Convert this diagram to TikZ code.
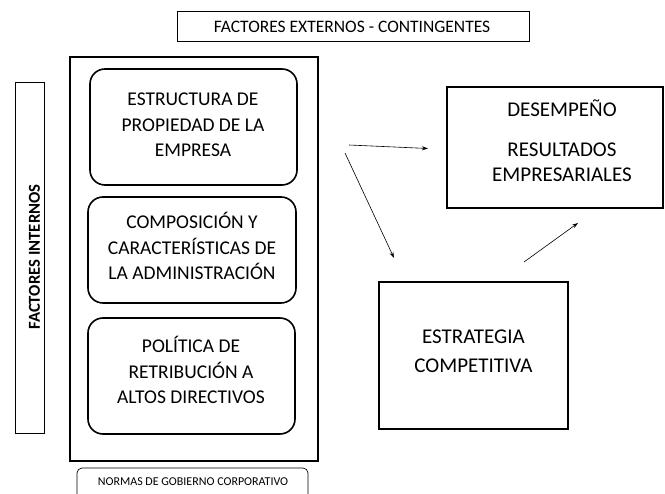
\documentclass[tikz,border=0pt]{standalone}
\usepackage{fontspec}
\setmainfont{Carlito}
\usetikzlibrary{arrows.meta}
\begin{document}
\begin{tikzpicture}[x=1pt,y=-1pt,
  thinbox/.style={draw,line width=0.7pt,inner sep=0pt},
  thickbox/.style={draw,line width=2pt,inner sep=0pt},
  roundbox/.style={draw,line width=1.6pt,rounded corners=15pt,inner sep=0pt},
  boxtext/.style={align=center,inner sep=0pt,text height=63.5pt,text depth=0pt,
     font=\fontsize{19.5}{25.5}\selectfont},
  bigtext/.style={align=center,inner sep=0pt,text depth=0pt,
     font=\fontsize{21}{25}\selectfont},
  arr/.style={line width=0.6pt,-{Stealth[length=6pt,width=4pt]}}]
\useasboundingbox (0,0) rectangle (665,494);
% top label
\node[thinbox,minimum width=352pt,minimum height=30pt] (ext) at (353,26) {};
\node[inner sep=0pt,text height=11.3pt,text depth=0pt,font=\fontsize{17.5}{20}\selectfont] (extt) at (352,27) {FACTORES EXTERNOS - CONTINGENTES};
% left vertical label
\node[thinbox,minimum width=29pt,minimum height=351pt] (intbox) at (29.5,257.5) {};
\node[rotate=90,inner sep=0pt,text height=10.8pt,text depth=0pt,font=\fontsize{16.7}{19}\selectfont\bfseries] (int) at (34.5,257) {FACTORES INTERNOS};
% container
\node[thickbox,minimum width=248pt,minimum height=404pt] (cont) at (194,259) {};
% rounded boxes
\node[roundbox,minimum width=207pt,minimum height=116pt] (b1) at (193.5,127) {};
\node[boxtext] (t1) at (193,125) {ESTRUCTURA DE\\PROPIEDAD DE LA\\EMPRESA};
\node[roundbox,minimum width=208pt,minimum height=106pt] (b2) at (192,250) {};
\node[boxtext] (t2) at (192,248) {COMPOSICIÓN Y\\CARACTERÍSTICAS DE\\LA ADMINISTRACIÓN};
\node[roundbox,minimum width=207pt,minimum height=116pt] (b3) at (191.5,376) {};
\node[boxtext] (t3) at (191,372) {POLÍTICA DE\\RETRIBUCIÓN A\\ALTOS DIRECTIVOS};
% bottom label
\draw[line width=0.7pt,rounded corners=5pt] (77,500) -- (77,468) -- (308,468) -- (308,500);
\node[inner sep=0pt,text height=7.7pt,text depth=0pt,font=\fontsize{12}{14}\selectfont] (norm) at (193,482) {NORMAS DE GOBIERNO CORPORATIVO};
% desempeno
\node[thickbox,minimum width=216pt,minimum height=121pt] (des) at (555,147.5) {};
\node[bigtext,text height=78.5pt] (dest) at (562,142.5) {DESEMPEÑO\\[15pt]RESULTADOS\\EMPRESARIALES};
% estrategia
\node[thickbox,minimum width=189pt,minimum height=147pt] (est) at (473.5,355.5) {};
\node[bigtext,text height=42.5pt,font=\fontsize{21}{29}\selectfont] (estt) at (473.5,351.5) {ESTRATEGIA\\COMPETITIVA};
% arrows
\coordinate (a1s) at (349,145);
\coordinate (a1e) at (428,148.5);
\coordinate (a2s) at (345,153);
\coordinate (a2e) at (394,258);
\coordinate (a3s) at (524,262);
\coordinate (a3e) at (578,223);
\draw[arr] (a1s) -- (a1e);
\draw[arr] (a2s) -- (a2e);
\draw[arr] (a3s) -- (a3e);
\end{tikzpicture}
\end{document}
